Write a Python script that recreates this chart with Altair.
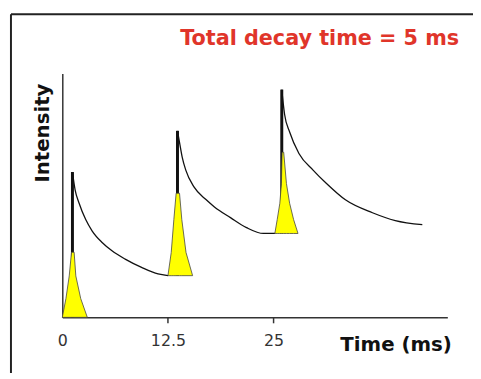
import altair as alt
import pandas as pd

# ---- data ----
# black decay curves (time in ms, intensity in % of y-axis height)
decay1_t = [1.20, 1.52, 1.99, 2.77, 3.54, 4.71, 5.88, 7.44, 9.38, 11.33, 12.50]
decay1_v = [59.6, 52.2, 46.8, 40.1, 35.4, 30.7, 27.3, 23.9, 20.5, 17.8, 17.1]
decay2_t = [13.63, 13.87, 14.20, 14.60, 15.60, 17.00, 18.00, 19.90, 21.80, 23.80, 25.15]
decay2_v = [76.5, 71.8, 65.5, 60.5, 53.4, 48.3, 45.3, 40.9, 36.8, 34.4, 34.4]
decay3_t = [25.97, 26.30, 26.90, 28.00, 29.70, 31.20, 33.50, 36.70, 39.40, 42.60]
decay3_v = [93.4, 83.3, 76.0, 67.2, 60.3, 55.1, 48.2, 42.9, 39.7, 38.0]

# thick black excitation spikes
spike_t = [1.20, 13.63, 25.97]
spike_base = [0.0, 17.1, 34.4]
spike_top = [59.6, 76.5, 93.4]

# yellow pulse shapes
tri1_t = [0.00, 0.43, 0.82, 1.09, 1.40, 1.60, 2.18, 2.96]
tri1_v = [0.0, 7.7, 17.0, 26.7, 26.7, 17.0, 7.7, 0.0]
tri2_t = [12.50, 12.89, 13.20, 13.47, 13.87, 14.14, 14.64, 15.42]
tri2_v = [17.1, 26.6, 40.1, 50.9, 50.9, 40.1, 26.6, 17.1]
tri3_t = [25.15, 25.43, 25.74, 25.93, 26.01, 26.20, 26.52, 26.90, 27.37, 27.89]
tri3_v = [34.4, 40.1, 46.8, 54.9, 67.7, 67.7, 54.9, 46.8, 40.1, 34.4]
tri_base = [0.0, 17.1, 34.4]

tick_values = [0, 12.5, 25]
tick_marks = [12.5, 25]
x_title = "Time (ms)"
y_title = "Intensity"
title_text = "Total decay time = 5 ms"

# ---- tables ----
decay_df = pd.concat([
    pd.DataFrame({"t": t, "v": v, "seg": i})
    for i, (t, v) in enumerate([(decay1_t, decay1_v), (decay2_t, decay2_v), (decay3_t, decay3_v)])
])
spike_df = pd.DataFrame({"t": spike_t, "v": spike_top, "v2": spike_base})
tri_df = pd.concat([
    pd.DataFrame({"t": t, "v": v, "v2": b, "seg": i})
    for i, (t, v, b) in enumerate([(tri1_t, tri1_v, tri_base[0]),
                                   (tri2_t, tri2_v, tri_base[1]),
                                   (tri3_t, tri3_v, tri_base[2])])
])
tick_df = pd.DataFrame({"t": tick_marks})

W, H = 390, 247
FONT = "DejaVu Sans"

xs = alt.Scale(domain=[0, 45.56], nice=False, zero=False)
ys = alt.Scale(domain=[0, 100], nice=False)

x_enc = alt.X("t:Q", scale=xs, axis=alt.Axis(
    values=tick_values, format=".1~f", ticks=False, tickSize=0, grid=False,
    labelFont=FONT, labelFontSize=16, labelColor="#333", labelPadding=15,
    labelFlush=False, labelOverlap=False,
    domainColor="#333", domainWidth=1.5,
    title=x_title, titleFont=FONT, titleFontSize=20, titleFontWeight="bold",
    titleColor="#111", titleX=394, titleY=34, titleAlign="right",
    titleBaseline="alphabetic", titleAnchor="end"))
y_enc = alt.Y("v:Q", scale=ys, axis=alt.Axis(
    labels=False, ticks=False, grid=False, domainColor="#333", domainWidth=1.5,
    title=y_title, titleFont=FONT, titleFontSize=20, titleFontWeight="bold",
    titleColor="#111", titleAngle=270, titleX=-14, titleY=110,
    titleAlign="left", titleBaseline="alphabetic"))

one = pd.DataFrame({"a": [0]})

frame_top = alt.Chart(one).mark_rule(color="#222", strokeWidth=2).encode(
    x=alt.value(-52), x2=alt.value(440), y=alt.value(-60))
frame_left = alt.Chart(one).mark_rule(color="#222", strokeWidth=2).encode(
    x=alt.value(-52), y=alt.value(-60), y2=alt.value(320))

ticks = alt.Chart(tick_df).mark_rule(color="#333", strokeWidth=1.5).encode(
    x=alt.X("t:Q", scale=xs), y=alt.value(H), y2=alt.value(H + 6))

spikes = alt.Chart(spike_df).mark_rule(color="#111", strokeWidth=3).encode(
    x=x_enc, y=y_enc, y2="v2:Q")

pulses = alt.Chart(tri_df).mark_area(
    color="#ffff00", stroke="#444", strokeWidth=0.8, interpolate="linear", opacity=1
).encode(x=x_enc, y=y_enc, y2="v2:Q", detail="seg:N")

curve = alt.Chart(decay_df).mark_line(
    color="#111", strokeWidth=1.3, interpolate="monotone").encode(
    x=x_enc, y=y_enc, detail="seg:N")

title = alt.Chart(one).mark_text(
    text=title_text, font=FONT, fontSize=21, fontWeight="bold", color="#e0352a",
    align="right", baseline="alphabetic").encode(x=alt.value(402), y=alt.value(-29))

chart = alt.layer(frame_top, frame_left, ticks, spikes, pulses, curve, title).properties(
    width=W, height=H,
    background="white",
    autosize=alt.AutoSizeParams(type="none"),
    padding={"left": 55, "top": 64, "right": 26, "bottom": 54},
).configure_view(strokeWidth=0, stroke="transparent")

chart.save("out.html", embed_options={"renderer": "svg", "actions": False})
